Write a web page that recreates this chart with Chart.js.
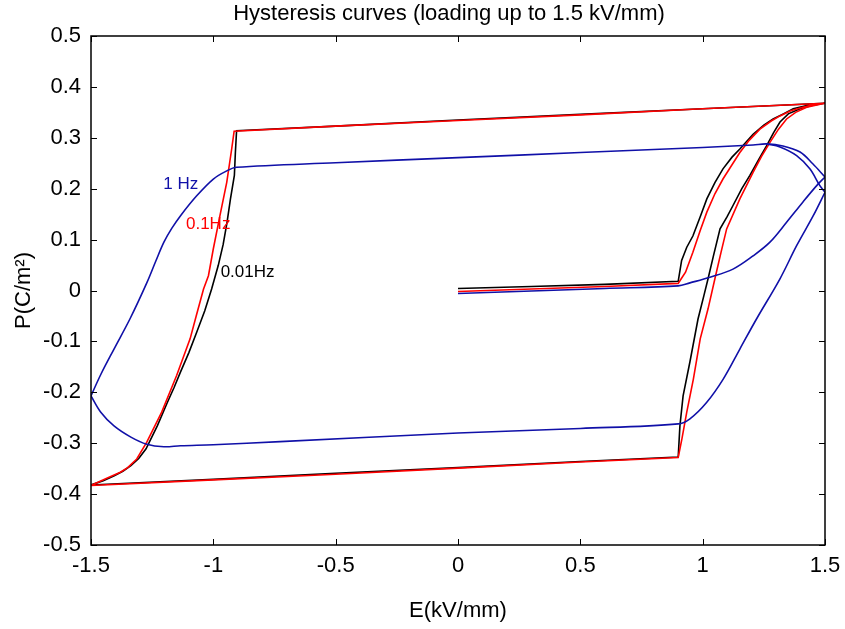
<!DOCTYPE html>
<html>
<head>
<meta charset="utf-8">
<script src="https://cdn.jsdelivr.net/npm/chart.js@4"></script>
<style>
html,body{margin:0;padding:0;background:#fff;}
#wrap{width:845px;height:629px;}
</style>
</head>
<body>
<div id="wrap"><canvas id="c" width="845" height="629"></canvas></div>
<script>
// ---- data ----
const xTicks = [-1.5, -1, -0.5, 0, 0.5, 1, 1.5];
const yTicks = [-0.5, -0.4, -0.3, -0.2, -0.1, 0, 0.1, 0.2, 0.3, 0.4, 0.5];

// 0.01 Hz (black): initial loading, unloading to -1.5, reloading to 1.5
const e001 = [0,0.3,0.6,0.9,0.914,0.935,0.96,0.99,1.017,1.05,1.083,1.12,1.152,1.206,1.25,1.288,1.33,1.37,1.43,1.5,
  1.0,0.5,0,-0.5,-0.905,
  -0.91,-0.914,-0.93,-0.944,-0.96,-0.98,-1.007,-1.035,-1.068,-1.1,-1.134,-1.16,-1.188,-1.229,-1.275,-1.305,-1.337,-1.37,-1.405,-1.45,-1.5,
  -1.0,-0.5,0,0.5,0.9,
  0.907,0.92,0.948,0.981,1.005,1.022,1.045,1.071,1.1,1.124,1.16,1.193,1.23,1.261,1.29,1.316,1.35,1.398,1.45,1.5];
const p001 = [0.004,0.008,0.012,0.018,0.059,0.085,0.107,0.145,0.18,0.212,0.239,0.262,0.278,0.307,0.325,0.337,0.347,0.357,0.364,0.368,
  0.357,0.346,0.335,0.323,0.314,
  0.27,0.226,0.18,0.134,0.09,0.049,0.003,-0.04,-0.082,-0.122,-0.16,-0.19,-0.22,-0.266,-0.311,-0.33,-0.344,-0.355,-0.364,-0.374,-0.382,
  -0.371,-0.359,-0.348,-0.336,-0.327,
  -0.266,-0.207,-0.14,-0.056,-0.01,0.023,0.07,0.121,0.145,0.167,0.2,0.226,0.258,0.284,0.31,0.331,0.347,0.357,0.364,0.368];

// 0.1 Hz (red)
const e01 = [0,0.3,0.6,0.9,0.915,0.93,0.96,0.99,1.017,1.05,1.083,1.12,1.152,1.19,1.234,1.28,1.316,1.36,1.41,1.45,1.5,
  1.0,0.5,0,-0.5,-0.915,
  -0.925,-0.945,-0.973,-1.0,-1.02,-1.04,-1.07,-1.095,-1.15,-1.211,-1.272,-1.313,-1.35,-1.38,-1.44,-1.5,
  -1.0,-0.5,0,0.5,0.9,
  0.915,0.935,0.962,0.99,1.022,1.05,1.075,1.098,1.152,1.206,1.24,1.275,1.31,1.343,1.38,1.425,1.5];
const p01 = [-0.002,0.003,0.008,0.014,0.025,0.036,0.075,0.118,0.154,0.19,0.219,0.247,0.271,0.295,0.317,0.333,0.343,0.353,0.36,0.365,0.368,
  0.357,0.345,0.334,0.323,0.313,
  0.278,0.213,0.147,0.082,0.029,0.003,-0.05,-0.095,-0.167,-0.239,-0.298,-0.331,-0.348,-0.357,-0.37,-0.383,
  -0.372,-0.361,-0.349,-0.337,-0.328,
  -0.292,-0.239,-0.174,-0.095,-0.036,0.023,0.075,0.121,0.18,0.232,0.263,0.291,0.317,0.337,0.35,0.36,0.368];

// 1 Hz (blue), one branch per array
const e1Load = [0,0.3,0.6,0.9,0.948,1.03,1.124,1.206,1.275,1.343,1.41,1.466,1.5];
const p1Load = [-0.006,-0.001,0.004,0.009,0.015,0.026,0.042,0.068,0.095,0.134,0.174,0.206,0.223];
const e1Down = [1.5,1.45,1.398,1.328,1.261,1.206,1.0,0.5,0,-0.5,-0.905,-0.945,-1.0,-1.068,-1.134,-1.17,-1.202,-1.235,-1.272,-1.34,-1.406,-1.46,-1.5];
const p1Down = [0.223,0.249,0.272,0.284,0.288,0.286,0.281,0.271,0.261,0.251,0.242,0.235,0.219,0.186,0.147,0.122,0.095,0.058,0.015,-0.055,-0.115,-0.165,-0.207];
const e1Up = [-1.5,-1.46,-1.406,-1.337,-1.272,-1.202,-1.134,-1.0,-0.727,0,0.5,0.9,0.948,1.016,1.084,1.152,1.22,1.316,1.384,1.452,1.5];
const p1Up = [-0.207,-0.239,-0.266,-0.288,-0.302,-0.307,-0.305,-0.303,-0.297,-0.28,-0.271,-0.262,-0.252,-0.22,-0.174,-0.115,-0.056,0.023,0.088,0.147,0.193];
const e1Down2 = [1.5,1.479,1.438,1.384,1.316,1.261];
const p1Down2 = [0.193,0.206,0.239,0.265,0.282,0.288];

const seriesNames = ['1 Hz', '0.1Hz', '0.01Hz'];
const seriesColors = ['#1010a8', '#ff0000', '#000000'];
// curve-label anchors in data units (E, P)
const labelE = [-1.133, -1.021, -0.86];
const labelP = [0.209, 0.130, 0.036];

const titleText = 'Hysteresis curves (loading up to 1.5 kV/mm)';
const xTitle = 'E(kV/mm)';
const yTitle = 'P(C/m\u00B2)';

// ---- build ----
function zip(xs, ys){ return xs.map((x,i)=>({x:x, y:ys[i]})); }
const FONT = "'Liberation Sans', Arial, Helvetica, sans-serif";

const frame = {
  id: 'frame',
  afterDatasetsDraw(chart){
    const {ctx, chartArea:a, scales} = chart;
    ctx.save();
    ctx.strokeStyle = '#000';
    ctx.lineWidth = 1.5;
    ctx.strokeRect(a.left, a.top, a.right - a.left, a.bottom - a.top);
    ctx.lineWidth = 1;
    const L = 6;
    ctx.beginPath();
    xTicks.forEach(v=>{
      const px = Math.round(scales.x.getPixelForValue(v)) + 0.5;
      ctx.moveTo(px, a.bottom); ctx.lineTo(px, a.bottom - L);
      ctx.moveTo(px, a.top); ctx.lineTo(px, a.top + L);
    });
    yTicks.forEach(v=>{
      const py = Math.round(scales.y.getPixelForValue(v)) + 0.5;
      ctx.moveTo(a.left, py); ctx.lineTo(a.left + L, py);
      ctx.moveTo(a.right, py); ctx.lineTo(a.right - L, py);
    });
    ctx.stroke();
    // curve labels
    ctx.font = '17px ' + FONT;
    ctx.textAlign = 'center';
    ctx.textBaseline = 'middle';
    seriesNames.forEach((n,i)=>{
      ctx.fillStyle = seriesColors[i];
      ctx.fillText(n, scales.x.getPixelForValue(labelE[i]), scales.y.getPixelForValue(labelP[i]));
    });
    // chart title, centred over the plot
    ctx.fillStyle = '#000';
    ctx.font = '22px ' + FONT;
    ctx.fillText(titleText, (a.left + a.right) / 2 - 9, 14);
    ctx.restore();
  }
};

const common = {showLine:true, pointRadius:0, borderWidth:1.6, fill:false};
const datasets = [
  {data: zip(e1Load, p1Load), borderColor: seriesColors[0], tension: 0.35},
  {data: zip(e1Down, p1Down), borderColor: seriesColors[0], tension: 0.35},
  {data: zip(e1Up, p1Up), borderColor: seriesColors[0], tension: 0.35},
  {data: zip(e1Down2, p1Down2), borderColor: seriesColors[0], tension: 0.35},
  {data: zip(e01, p01), borderColor: seriesColors[1], tension: 0},
  {data: zip(e001, p001), borderColor: seriesColors[2], tension: 0}
].map(d => Object.assign(d, common));

new Chart(document.getElementById('c'), {
  type: 'scatter',
  data: {datasets},
  plugins: [frame],
  options: {
    responsive: false,
    animation: false,
    layout: {padding: {left: 0, right: 20, top: 36, bottom: 0}},
    plugins: {
      legend: {display: false},
      tooltip: {enabled: false},
      title: {display: false}
    },
    scales: {
      x: {
        type: 'linear', min: -1.5, max: 1.5,
        afterBuildTicks: s => { s.ticks = xTicks.map(v => ({value: v})); },
        afterFit: s => { s.height = 84; s.paddingLeft = 0; s.paddingRight = 0; },
        grid: {display: false, drawTicks: false},
        border: {display: false},
        ticks: {color: '#000', padding: 8, maxRotation: 0, autoSkip: false,
          font: {family: FONT, size: 22}, callback: v => String(v)},
        title: {display: true, text: xTitle, color: '#000',
          font: {family: FONT, size: 22}, padding: {top: 0, bottom: 5}}
      },
      y: {
        type: 'linear', min: -0.5, max: 0.5,
        afterBuildTicks: s => { s.ticks = yTicks.map(v => ({value: v})); },
        afterFit: s => { s.width = 91; s.paddingTop = 0; s.paddingBottom = 0; },
        grid: {display: false, drawTicks: false},
        border: {display: false},
        ticks: {color: '#000', padding: 10, autoSkip: false,
          font: {family: FONT, size: 22}, callback: v => String(v)},
        title: {display: true, text: yTitle, color: '#000',
          font: {family: FONT, size: 22}, padding: {top: 11, bottom: 0}}
      }
    }
  }
});
</script>
</body>
</html>
